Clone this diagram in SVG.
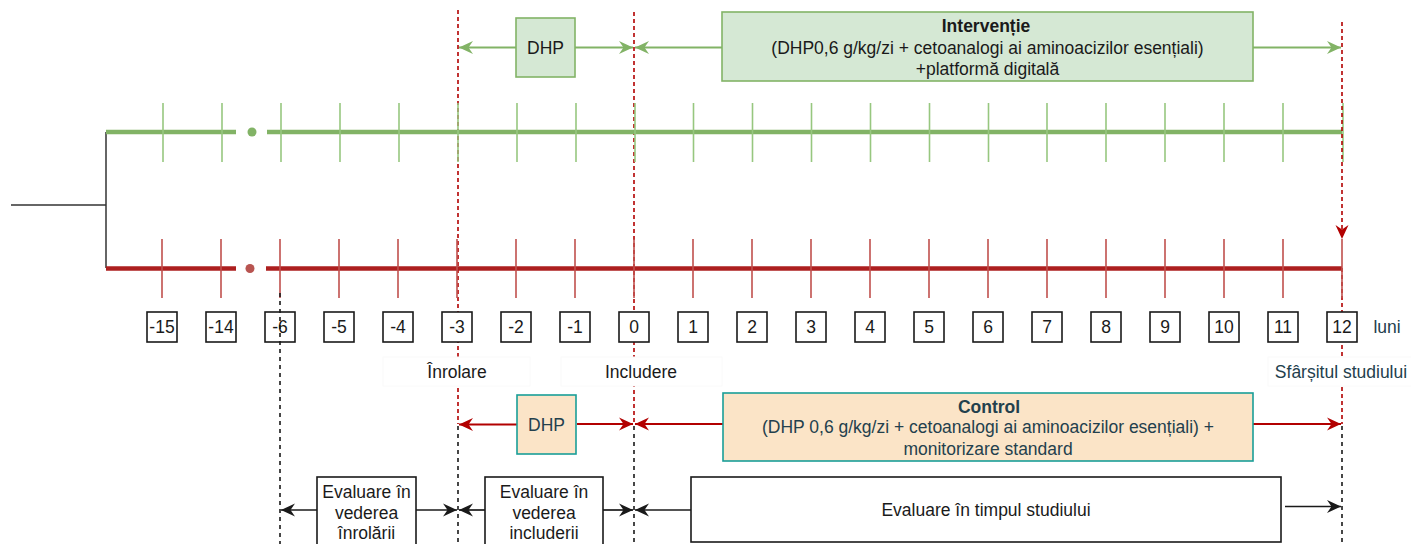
<svg xmlns="http://www.w3.org/2000/svg" width="1411" height="544" viewBox="0 0 1411 544">
  <style>
    text { font-family: "Liberation Sans", Arial, sans-serif; }
    .t { font-size: 17.5px; fill: #1a1a1a; text-anchor: middle; dominant-baseline: central; }
    .ts { font-size: 17.5px; fill: #23404d; text-anchor: middle; dominant-baseline: central; }
    .b { font-weight: bold; }
    .num { font-size: 17.5px; fill: #1a1a1a; text-anchor: middle; dominant-baseline: central; }
    .nbox { fill: #ffffff; stroke: #1a1a1a; stroke-width: 1.6; }
    .gtick { stroke: #97c77f; stroke-width: 1.6; }
    .rtick { stroke: #c0504d; stroke-width: 1.6; }
    .rdash { stroke: #b20000; stroke-width: 1.6; stroke-dasharray: 4 3; fill: none; }
    .kdash { stroke: #1a1a1a; stroke-width: 1.6; stroke-dasharray: 4 4; fill: none; }
    .garr { stroke: #82b366; stroke-width: 1.8; fill: none; marker-end: url(#mg); }
    .rarr { stroke: #b20000; stroke-width: 2; fill: none; marker-end: url(#mr); }
    .karr { stroke: #1a1a1a; stroke-width: 1.7; fill: none; marker-end: url(#mk); }
    .lbl { fill: #ffffff; stroke: #fafafa; stroke-width: 1; }
    .ebox { fill: #ffffff; stroke: #1a1a1a; stroke-width: 1.6; }
  </style>
  <defs>
    <marker id="mg" markerUnits="userSpaceOnUse" markerWidth="16" markerHeight="16" refX="14" refY="7" orient="auto">
      <path d="M0,0.5 L14,7 L0,13.5 L4.5,7 Z" fill="#82b366"/>
    </marker>
    <marker id="mr" markerUnits="userSpaceOnUse" markerWidth="16" markerHeight="16" refX="14" refY="7" orient="auto">
      <path d="M0,0.5 L14,7 L0,13.5 L4.5,7 Z" fill="#b20000"/>
    </marker>
    <marker id="mk" markerUnits="userSpaceOnUse" markerWidth="16" markerHeight="16" refX="14" refY="7" orient="auto">
      <path d="M0,0.5 L14,7 L0,13.5 L4.5,7 Z" fill="#1a1a1a"/>
    </marker>
  </defs>

  <rect width="1411" height="544" fill="#ffffff"/>

  <!-- milestone guide lines -->
  <g id="guides">
    <line class="rdash" x1="458" y1="10" x2="458" y2="424"/>
    <line class="rdash" x1="634" y1="12" x2="634" y2="424"/>
    <line class="rdash" x1="1342" y1="268" x2="1342" y2="424"/>
    <line class="kdash" x1="458" y1="426" x2="458" y2="544"/>
    <line class="kdash" x1="634" y1="426" x2="634" y2="544"/>
    <line class="kdash" x1="1342" y1="426" x2="1342" y2="544"/>
  </g>

  <!-- branching of the two arms -->
  <g id="branch" stroke="#333333" stroke-width="1.5" fill="none">
    <line x1="11" y1="205" x2="106" y2="205"/>
    <line x1="106" y1="132" x2="106" y2="268"/>
  </g>

  <!-- intervention arm timeline -->
  <g id="timeline-intervention">
    <line x1="106" y1="132" x2="236" y2="132" stroke="#82b366" stroke-width="4.5"/>
    <line x1="267" y1="132" x2="1342" y2="132" stroke="#82b366" stroke-width="4.5"/>
    <circle cx="252" cy="132" r="4.5" fill="#82b366"/>
    <g class="gtick">
      <line x1="163" y1="103" x2="163" y2="162"/>
      <line x1="222" y1="103" x2="222" y2="162"/>
      <line x1="281" y1="103" x2="281" y2="162"/>
      <line x1="340" y1="103" x2="340" y2="162"/>
      <line x1="399" y1="103" x2="399" y2="162"/>
      <line x1="458" y1="103" x2="458" y2="162"/>
      <line x1="517" y1="103" x2="517" y2="162"/>
      <line x1="576" y1="103" x2="576" y2="162"/>
      <line x1="635" y1="103" x2="635" y2="162"/>
      <line x1="693.5" y1="103" x2="693.5" y2="162"/>
      <line x1="752.5" y1="103" x2="752.5" y2="162"/>
      <line x1="811.5" y1="103" x2="811.5" y2="162"/>
      <line x1="870.5" y1="103" x2="870.5" y2="162"/>
      <line x1="929.5" y1="103" x2="929.5" y2="162"/>
      <line x1="988.5" y1="103" x2="988.5" y2="162"/>
      <line x1="1047" y1="103" x2="1047" y2="162"/>
      <line x1="1106" y1="103" x2="1106" y2="162"/>
      <line x1="1165" y1="103" x2="1165" y2="162"/>
      <line x1="1224" y1="103" x2="1224" y2="162"/>
      <line x1="1283" y1="103" x2="1283" y2="162"/>
      <line x1="1343" y1="103" x2="1343" y2="162"/>
    </g>
  </g>

  <!-- control arm timeline -->
  <g id="timeline-control">
    <line x1="106" y1="268.5" x2="236" y2="268.5" stroke="#ad1f1f" stroke-width="4.5"/>
    <line x1="266" y1="268.5" x2="1342" y2="268.5" stroke="#ad1f1f" stroke-width="4.5"/>
    <circle cx="250" cy="268.5" r="4.5" fill="#b85450"/>
    <g class="rtick">
      <line x1="162" y1="239" x2="162" y2="298"/>
      <line x1="221" y1="239" x2="221" y2="298"/>
      <line x1="280" y1="239" x2="280" y2="298"/>
      <line x1="339" y1="239" x2="339" y2="298"/>
      <line x1="398" y1="239" x2="398" y2="298"/>
      <line x1="457" y1="239" x2="457" y2="298"/>
      <line x1="516" y1="239" x2="516" y2="298"/>
      <line x1="575" y1="239" x2="575" y2="298"/>
      <line x1="634" y1="239" x2="634" y2="298"/>
      <line x1="693" y1="239" x2="693" y2="298"/>
      <line x1="752" y1="239" x2="752" y2="298"/>
      <line x1="811" y1="239" x2="811" y2="298"/>
      <line x1="870" y1="239" x2="870" y2="298"/>
      <line x1="929" y1="239" x2="929" y2="298"/>
      <line x1="988" y1="239" x2="988" y2="298"/>
      <line x1="1047" y1="239" x2="1047" y2="298"/>
      <line x1="1106" y1="239" x2="1106" y2="298"/>
      <line x1="1165" y1="239" x2="1165" y2="298"/>
      <line x1="1224" y1="239" x2="1224" y2="298"/>
      <line x1="1283" y1="239" x2="1283" y2="298"/>
      <line x1="1342" y1="239" x2="1342" y2="298"/>
    </g>
  </g>

  <!-- month markers -->
  <g id="months">
    <rect class="nbox" x="147" y="312" width="30" height="30"/><text class="num" x="162" y="327">-15</text>
    <rect class="nbox" x="206" y="312" width="30" height="30"/><text class="num" x="221" y="327">-14</text>
    <rect class="nbox" x="265" y="312" width="30" height="30"/><text class="num" x="280" y="327">-6</text>
    <rect class="nbox" x="324" y="312" width="30" height="30"/><text class="num" x="339" y="327">-5</text>
    <rect class="nbox" x="383" y="312" width="30" height="30"/><text class="num" x="398" y="327">-4</text>
    <rect class="nbox" x="442" y="312" width="30" height="30"/><text class="num" x="457" y="327">-3</text>
    <rect class="nbox" x="501" y="312" width="30" height="30"/><text class="num" x="516" y="327">-2</text>
    <rect class="nbox" x="560" y="312" width="30" height="30"/><text class="num" x="575" y="327">-1</text>
    <rect class="nbox" x="619" y="312" width="30" height="30"/><text class="num" x="634" y="327">0</text>
    <rect class="nbox" x="678" y="312" width="30" height="30"/><text class="num" x="693" y="327">1</text>
    <rect class="nbox" x="737" y="312" width="30" height="30"/><text class="num" x="752" y="327">2</text>
    <rect class="nbox" x="796" y="312" width="30" height="30"/><text class="num" x="811" y="327">3</text>
    <rect class="nbox" x="855" y="312" width="30" height="30"/><text class="num" x="870" y="327">4</text>
    <rect class="nbox" x="914" y="312" width="30" height="30"/><text class="num" x="929" y="327">5</text>
    <rect class="nbox" x="973" y="312" width="30" height="30"/><text class="num" x="988" y="327">6</text>
    <rect class="nbox" x="1032" y="312" width="30" height="30"/><text class="num" x="1047" y="327">7</text>
    <rect class="nbox" x="1091" y="312" width="30" height="30"/><text class="num" x="1106" y="327">8</text>
    <rect class="nbox" x="1150" y="312" width="30" height="30"/><text class="num" x="1165" y="327">9</text>
    <rect class="nbox" x="1209" y="312" width="30" height="30"/><text class="num" x="1224" y="327">10</text>
    <rect class="nbox" x="1268" y="312" width="30" height="30"/><text class="num" x="1283" y="327">11</text>
    <rect class="nbox" x="1327" y="312" width="30" height="30"/><text class="num" x="1342" y="327">12</text>
    <text class="ts" x="1387" y="327">luni</text>
  </g>

  <!-- enrolment guide through month -6 -->
  <line class="kdash" x1="280" y1="293" x2="280" y2="544"/>

  <!-- milestone labels -->
  <g id="label-inrolare">
    <rect class="lbl" x="383" y="357" width="147" height="29"/>
    <text class="t" x="457" y="371.5" fill="#222">Înrolare</text>
  </g>
  <g id="label-includere">
    <rect class="lbl" x="561" y="357" width="161" height="29"/>
    <text class="t" x="641" y="371.5">Includere</text>
  </g>
  <g id="label-sfarsit">
    <rect class="lbl" x="1268" y="357" width="150" height="29"/>
    <text class="ts" x="1341" y="371.5">Sfârșitul studiului</text>
  </g>

  <!-- connectors -->
  <g id="connectors">
    <line class="garr" x1="516" y1="47.5" x2="459" y2="47.5"/>
    <line class="garr" x1="575" y1="47.5" x2="633" y2="47.5"/>
    <line class="garr" x1="722" y1="47.5" x2="635" y2="47.5"/>
    <line class="garr" x1="1253" y1="47.5" x2="1341" y2="47.5"/>
    <line x1="1342" y1="22" x2="1342" y2="239" stroke="#b20000" stroke-width="1.6" stroke-dasharray="4 3" marker-end="url(#mr)"/>
    <line class="rarr" x1="517" y1="424.5" x2="459" y2="424.5"/>
    <line class="rarr" x1="577" y1="424" x2="633" y2="424"/>
    <line class="rarr" x1="723" y1="424" x2="635" y2="424"/>
    <line class="rarr" x1="1253" y1="424" x2="1341" y2="424"/>
    <line class="karr" x1="317" y1="510" x2="281" y2="510"/>
    <line class="karr" x1="416" y1="510" x2="457" y2="510"/>
    <line class="karr" x1="485" y1="510" x2="459" y2="510"/>
    <line class="karr" x1="603" y1="510" x2="633" y2="510"/>
    <line class="karr" x1="691" y1="510" x2="635" y2="510"/>
    <line class="karr" x1="1285" y1="506.5" x2="1341" y2="506.5"/>
  </g>

  <!-- treatment boxes -->
  <g id="dhp-intervention">
    <rect x="516" y="18" width="59" height="59" fill="#d5e8d4" stroke="#82b366" stroke-width="1.6"/>
    <text class="t" x="545.5" y="47.5">DHP</text>
  </g>
  <g id="interventie">
    <rect x="722" y="12" width="531" height="69" fill="#d5e8d4" stroke="#82b366" stroke-width="1.6"/>
    <text class="t b" x="986" y="26">Intervenție</text>
    <text class="t" x="987.5" y="47.5">(DHP0,6 g/kg/zi + cetoanalogi ai aminoacizilor esențiali)</text>
    <text class="t" x="987.5" y="69">+platformă digitală</text>
  </g>
  <g id="dhp-control">
    <rect x="517" y="395" width="59" height="59" fill="#fbe4c7" stroke="#1a9e98" stroke-width="1.6"/>
    <text class="ts" x="546.5" y="424.5">DHP</text>
  </g>
  <g id="control">
    <rect x="723" y="393" width="530" height="68" fill="#fbe4c7" stroke="#1a9e98" stroke-width="1.6"/>
    <text class="ts b" x="989" y="406.5">Control</text>
    <text class="ts" x="988" y="427">(DHP 0,6 g/kg/zi + cetoanalogi ai aminoacizilor esențiali) +</text>
    <text class="ts" x="988" y="448.5">monitorizare standard</text>
  </g>

  <!-- assessment boxes -->
  <g id="eval-inrolare">
    <rect class="ebox" x="317" y="477" width="99" height="75"/>
    <text class="t" x="366.5" y="492">Evaluare în</text>
    <text class="t" x="366.5" y="512.5">vederea</text>
    <text class="t" x="366.5" y="533">înrolării</text>
  </g>
  <g id="eval-includere">
    <rect class="ebox" x="485" y="477" width="118" height="75"/>
    <text class="t" x="544" y="492">Evaluare în</text>
    <text class="t" x="544" y="512.5">vederea</text>
    <text class="t" x="544" y="533">includerii</text>
  </g>
  <g id="eval-studiu">
    <rect class="ebox" x="691" y="477" width="590" height="65"/>
    <text class="t" x="986" y="510">Evaluare în timpul studiului</text>
  </g>
</svg>
